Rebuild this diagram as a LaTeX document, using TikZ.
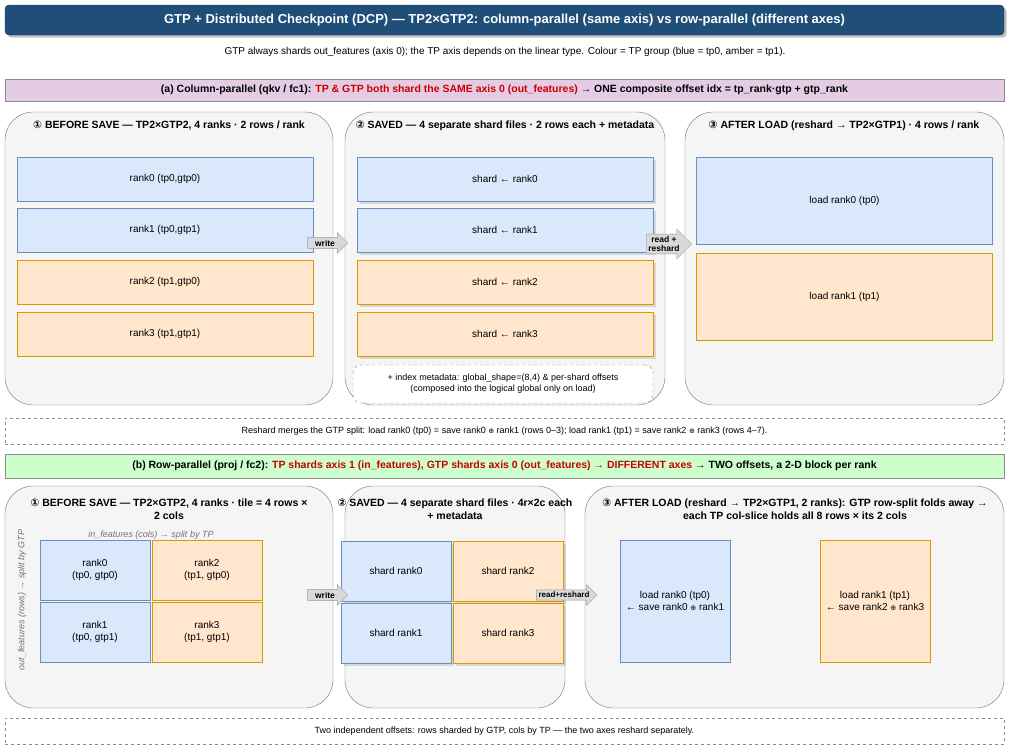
\documentclass[tikz,border=0pt]{standalone}
\usepackage{fontspec}
\setmainfont{Liberation Sans}
\newfontfamily\sym{DejaVu Sans}
\usetikzlibrary{shapes.arrows,shadows}
\definecolor{tpzero}{HTML}{DAE8FC}
\definecolor{tpzeroline}{HTML}{6C8EBF}
\definecolor{tpone}{HTML}{FFE6CC}
\definecolor{toponeline}{HTML}{D79B00}
\definecolor{titlebg}{HTML}{1F4E79}
\definecolor{panelbg}{HTML}{F5F5F5}
\definecolor{hotred}{HTML}{CC0000}
\newcommand{\cn}[1]{{\sym #1}}
\newcommand{\op}{{\sym\scriptsize ⊕}}
\tikzset{
  panel/.style={draw=black!55, fill=panelbg, rounded corners=28pt},
  tpblue/.style={draw=tpzeroline, fill=tpzero, font=\fontsize{10}{12}\selectfont, align=center},
  tpamber/.style={draw=toponeline, fill=tpone, font=\fontsize{10}{12}\selectfont, align=center},
  heading/.style={font=\bfseries\fontsize{10.5}{13}\selectfont, align=center},
  note/.style={draw=black!45, dashed, fill=white, font=\fontsize{9}{11}\selectfont, align=center},
  band/.style={draw=black!45, font=\bfseries\fontsize{10.5}{13}\selectfont},
  blockarrow/.style={single arrow, draw=black!40, fill=black!15, minimum height=40pt,
    single arrow head extend=5pt, inner sep=2pt, font=\bfseries\fontsize{8.5}{9}\selectfont, align=center},
}
\begin{document}
\begin{tikzpicture}[x=1pt,y=-1pt]
  \useasboundingbox (0,0) rectangle (1010,745);
  % header
  \node[draw=titlebg!70!black, fill=titlebg, rounded corners=4pt, drop shadow, minimum width=999pt, minimum height=30pt,
    text=white, font=\bfseries\fontsize{13}{15}\selectfont] (title) at (504.5,20)
    {GTP + Distributed Checkpoint (DCP) — TP2×GTP2: column-parallel (same axis) vs row-parallel (different axes)};
  \node[font=\fontsize{10}{12}\selectfont] (sub) at (505,52)
    {GTP always shards out\_features (axis 0); the TP axis depends on the linear type. Colour = TP group (blue = tp0, amber = tp1).};

  % (a) column-parallel
  \node[band, fill=violet!20, minimum width=999pt, minimum height=22pt] (banda) at (504.5,90)
    {(a) Column-parallel (qkv / fc1): \textcolor{hotred}{TP \& GTP both shard the SAME axis 0 (out\_features)} → ONE composite offset idx = tp\_rank·gtp + gtp\_rank};
  \draw[panel] (5,112) rectangle (333,405);
  \draw[panel] (345,112) rectangle (665,405);
  \draw[panel] (685,112) rectangle (1004,405);
  \node[heading] (ha1) at (169,126) {\cn{①} BEFORE SAVE — TP2×GTP2, 4 ranks · 2 rows / rank};
  \node[heading] (ha2) at (505,126) {\cn{②} SAVED — 4 separate shard files · 2 rows each + metadata};
  \node[heading] (ha3) at (844,126) {\cn{③} AFTER LOAD (reshard → TP2×GTP1) · 4 rows / rank};
  \foreach \i/\lbl/\sty/\y in {0/{tp0,gtp0}/tpblue/179, 1/{tp0,gtp1}/tpblue/230,
                               2/{tp1,gtp0}/tpamber/282, 3/{tp1,gtp1}/tpamber/334} {
    \node[\sty, minimum width=296pt, minimum height=44pt] (ra\i) at (165,\y) {rank\i\ (\lbl)};
    \node[\sty, drop shadow={opacity=0.25}, minimum width=296pt, minimum height=44pt] (sa\i) at (505,\y) {shard ← rank\i};
  }
  \node[note, rounded corners=8pt, minimum width=300pt, minimum height=38pt] (meta) at (503,384)
    {+ index metadata: global\_shape=(8,4) \& per-shard offsets\\(composed into the logical global only on load)};
  \node[tpblue, minimum width=296pt, minimum height=87pt] (la0) at (844.5,200.5) {load rank0 (tp0)};
  \node[tpamber, minimum width=296pt, minimum height=87pt] (la1) at (844.5,296.5) {load rank1 (tp1)};
  \node[blockarrow, minimum height=40pt] (wa) at (325,243) {write};
  \node[blockarrow, minimum height=42pt] (rda) at (664,244) {read +\\reshard};
  \node[note, minimum width=999pt, minimum height=26pt] (nota) at (504.5,431)
    {Reshard merges the GTP split: load rank0 (tp0) = save rank0 \op\ rank1 (rows 0–3); load rank1 (tp1) = save rank2 \op\ rank3 (rows 4–7).};

  % (b) row-parallel
  \node[band, fill=green!20, minimum width=999pt, minimum height=24pt] (bandb) at (504.5,466)
    {(b) Row-parallel (proj / fc2): \textcolor{hotred}{TP shards axis 1 (in\_features), GTP shards axis 0 (out\_features) → DIFFERENT axes} → TWO offsets, a 2-D block per rank};
  \draw[panel] (5,486) rectangle (333,708);
  \draw[panel] (345,486) rectangle (565,708);
  \draw[panel] (585,486) rectangle (1004,708);
  \node[heading] (hb1) at (169,509) {\cn{①} BEFORE SAVE — TP2×GTP2, 4 ranks · tile = 4 rows ×\\2 cols};
  \node[heading] (hb2) at (455,509) {\cn{②} SAVED — 4 separate shard files · 4r×2c each\\+ metadata};
  \node[heading] (hb3) at (795,509) {\cn{③} AFTER LOAD (reshard → TP2×GTP1, 2 ranks): GTP row-split folds away →\\each TP col-slice holds all 8 rows × its 2 cols};
  \node[font=\itshape\fontsize{9}{11}\selectfont, text=black!55] (colax) at (151,535) {in\_features (cols) → split by TP};
  \node[font=\itshape\fontsize{9}{11}\selectfont, text=black!55, rotate=90] (rowax) at (22,600) {out\_features (rows) → split by GTP};
  \foreach \i/\lbl/\sty/\x/\y in {0/{tp0, gtp0}/tpblue/95/570, 1/{tp0, gtp1}/tpblue/95/632,
                                  2/{tp1, gtp0}/tpamber/207/570, 3/{tp1, gtp1}/tpamber/207/632} {
    \node[\sty, minimum width=110pt, minimum height=60pt] (rb\i) at (\x,\y) {rank\i\\(\lbl)};
    \node[\sty, drop shadow={opacity=0.25}, minimum width=110pt, minimum height=60pt] (sb\i) at (\x+301,\y+1) {shard rank\i};
  }
  \node[tpblue, minimum width=110pt, minimum height=122pt] (lb0) at (675,601) {load rank0 (tp0)\\← save rank0 \op\ rank1};
  \node[tpamber, minimum width=110pt, minimum height=122pt] (lb1) at (875,601) {load rank1 (tp1)\\← save rank2 \op\ rank3};
  \node[blockarrow, minimum height=40pt] (wb) at (325,595) {write};
  \node[blockarrow, minimum height=42pt, font=\bfseries\fontsize{8}{9}\selectfont] (rdb) at (564,595) {read+reshard};
  \node[note, minimum width=999pt, minimum height=26pt] (notb) at (504.5,731)
    {Two independent offsets: rows sharded by GTP, cols by TP — the two axes reshard separately.};
\end{tikzpicture}
\end{document}
